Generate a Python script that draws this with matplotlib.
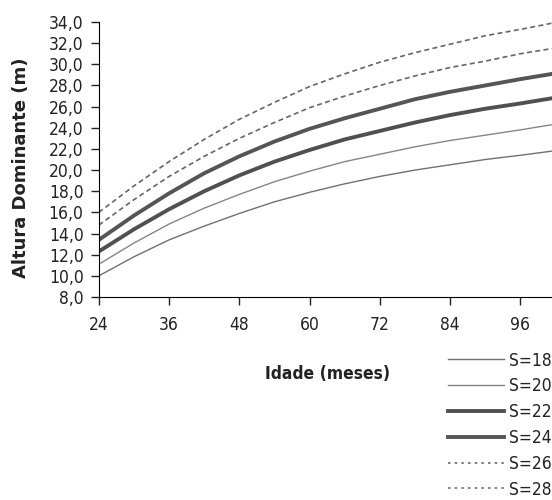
import numpy as np
import matplotlib.pyplot as plt
from matplotlib.ticker import FuncFormatter

# idade (meses) e altura dominante (m)
idade = [24, 30, 36, 42, 48, 54, 60, 66, 72, 78, 84, 90, 96, 101.5]
s18 = [10.0, 11.8, 13.4, 14.7, 15.9, 17.0, 17.9, 18.7, 19.4, 20.0, 20.5, 21.0, 21.4, 21.8]
s20 = [11.1, 13.1, 14.9, 16.4, 17.7, 18.9, 19.9, 20.8, 21.5, 22.2, 22.8, 23.3, 23.8, 24.3]
s22 = [12.3, 14.4, 16.3, 18.0, 19.5, 20.8, 21.9, 22.9, 23.7, 24.5, 25.2, 25.8, 26.3, 26.8]
s24 = [13.4, 15.7, 17.8, 19.7, 21.3, 22.7, 23.9, 24.9, 25.8, 26.7, 27.4, 28.0, 28.6, 29.1]
s26 = [14.8, 17.2, 19.4, 21.3, 23.0, 24.5, 25.9, 27.0, 28.0, 28.9, 29.7, 30.3, 31.0, 31.5]
s28 = [16.0, 18.5, 20.8, 22.9, 24.8, 26.4, 27.9, 29.1, 30.2, 31.1, 31.9, 32.7, 33.3, 33.9]

labels = ['S=18', 'S=20', 'S=22', 'S=24', 'S=26', 'S=28']
xticks = [24, 36, 48, 60, 72, 84, 96]
yticks = np.arange(8, 35, 2)

fig = plt.figure(figsize=(5.52, 5.0), dpi=100)
ax = fig.add_axes([0.179, 0.406, 0.821, 0.55])

ax.plot(idade, s18, color='#707070', lw=1.0, label=labels[0])
ax.plot(idade, s20, color='#858585', lw=1.0, label=labels[1])
ax.plot(idade, s22, color='#505050', lw=2.8, label=labels[2])
ax.plot(idade, s24, color='#555555', lw=2.8, label=labels[3])
ax.plot(idade, s26, color='#666666', lw=1.2, ls=(0, (3, 2)), label=labels[4])
ax.plot(idade, s28, color='#666666', lw=1.2, ls=(0, (3, 2)), label=labels[5])

ax.set_xlim(24, 101.4)
ax.set_ylim(8, 34)
ax.set_xticks(xticks)
ax.set_yticks(yticks)
ax.yaxis.set_major_formatter(FuncFormatter(lambda v, p: ('%.1f' % v).replace('.', ',')))
ax.tick_params(direction='out', length=6, width=1, colors='#222222', labelsize=12.5, pad=5)
ax.tick_params(axis='x', pad=8)
for t in ax.get_xticklabels() + ax.get_yticklabels():
    t.set_fontstretch('condensed')
ax.spines['top'].set_visible(False)
ax.spines['right'].set_visible(False)

fig.text(0.038, 0.664, 'Altura Dominante (m)', rotation=90, fontsize=13,
         fontweight='bold', ha='center', va='center', color='#222222')
fig.text(0.594, 0.252, 'Idade (meses)', fontsize=12.5, fontweight='bold',
         ha='center', va='center', color='#222222', fontstretch='condensed')

h, l = ax.get_legend_handles_labels()
leg = fig.legend(h, l, loc='upper right', bbox_to_anchor=(1.0, 0.297), frameon=False,
                 fontsize=12.5, handlelength=3.2, handletextpad=0.3, labelspacing=0.45,
                 borderaxespad=0, borderpad=0)
for t in leg.get_texts():
    t.set_color('#222222')
    t.set_fontstretch('condensed')
leg.get_lines()[4].set_linestyle((0, (1.5, 2.5)))
leg.get_lines()[5].set_linestyle((0, (1.5, 2.5)))

fig.savefig('out.png', dpi=100)
